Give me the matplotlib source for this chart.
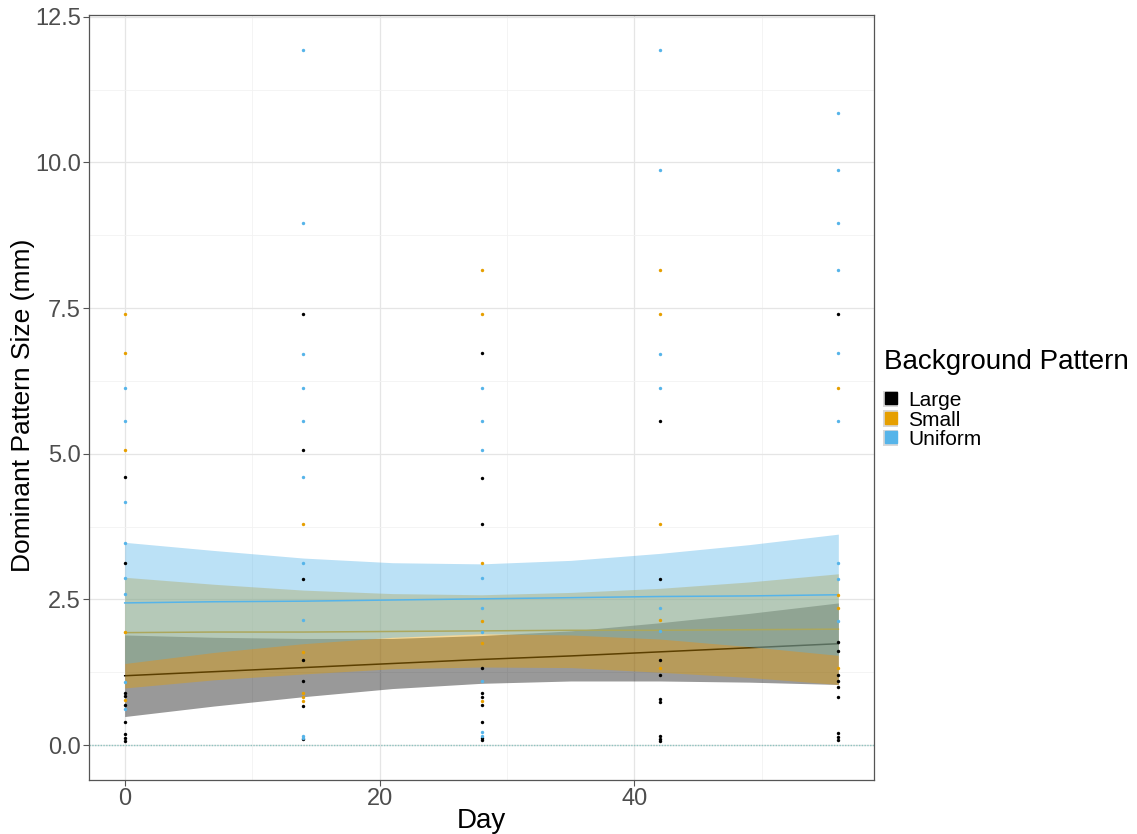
import matplotlib
matplotlib.use("Agg")
import matplotlib.pyplot as plt
from matplotlib.patches import Patch
from matplotlib.lines import Line2D
from matplotlib.ticker import MultipleLocator

plt.rcParams['font.family'] = ['Liberation Sans', 'DejaVu Sans']

# observed pattern sizes (mm) per sampling day
large_pts = {
    0: [4.60, 3.13, 0.90, 0.85, 0.69, 0.39, 0.19, 0.13, 0.07],
    14: [7.40, 5.06, 2.85, 1.46, 1.10, 0.67, 0.10],
    28: [6.73, 4.59, 3.80, 1.32, 0.90, 0.82, 0.68, 0.39, 0.12, 0.08],
    42: [5.56, 2.85, 1.46, 1.21, 0.79, 0.74, 0.16, 0.11, 0.07],
    56: [7.40, 1.77, 1.61, 1.21, 1.10, 0.99, 0.82, 0.20, 0.14, 0.09],
}
small_pts = {
    0: [7.40, 6.73, 5.06, 1.94, 0.78],
    14: [3.80, 1.60, 0.90, 0.82, 0.75],
    28: [8.15, 7.40, 3.13, 2.13, 1.76, 0.75],
    42: [8.15, 7.40, 3.80, 2.14, 1.32],
    56: [6.12, 2.58, 2.36, 1.33],
}
uniform_pts = {
    0: [6.12, 5.56, 4.18, 3.46, 2.86, 2.60, 1.09, 0.62],
    14: [11.93, 8.96, 6.72, 6.12, 5.56, 4.60, 3.13, 2.14, 0.16, 0.12],
    28: [6.12, 5.56, 5.06, 2.86, 2.36, 1.94, 1.10, 0.22, 0.16],
    42: [11.93, 9.87, 6.72, 6.12, 2.36, 1.95],
    56: [10.85, 9.87, 8.96, 8.15, 6.73, 5.56, 3.13, 2.85, 2.13],
}

# fitted trend with confidence band
fit_days = [0, 7, 14, 21, 28, 35, 42, 49, 56]
large_fit = [1.19, 1.26, 1.33, 1.40, 1.47, 1.53, 1.60, 1.67, 1.74]
large_lo = [0.49, 0.67, 0.83, 0.97, 1.06, 1.10, 1.10, 1.08, 1.04]
large_hi = [1.89, 1.85, 1.83, 1.83, 1.88, 1.96, 2.10, 2.26, 2.44]
small_fit = [1.93, 1.94, 1.94, 1.95, 1.96, 1.97, 1.97, 1.98, 1.99]
small_lo = [0.98, 1.12, 1.22, 1.31, 1.34, 1.33, 1.25, 1.16, 1.04]
small_hi = [2.88, 2.76, 2.66, 2.60, 2.58, 2.62, 2.69, 2.80, 2.94]
uniform_fit = [2.44, 2.46, 2.47, 2.49, 2.51, 2.53, 2.55, 2.56, 2.58]
uniform_lo = [1.40, 1.59, 1.74, 1.85, 1.91, 1.89, 1.82, 1.69, 1.54]
uniform_hi = [3.48, 3.34, 3.21, 3.13, 3.11, 3.17, 3.29, 3.44, 3.62]

groups = ["Large", "Small", "Uniform"]
colors = ["#000000", "#E69F00", "#56B4E9"]
points = [large_pts, small_pts, uniform_pts]
fits = [(large_fit, large_lo, large_hi),
        (small_fit, small_lo, small_hi),
        (uniform_fit, uniform_lo, uniform_hi)]

fig = plt.figure(figsize=(11.37, 8.34), dpi=100)
ax = fig.add_axes([0.0783, 0.0647, 0.6904, 0.9173])

# ribbons and lines, one group at a time
for i, (fit, lo, hi) in enumerate(fits):
    ax.fill_between(fit_days, lo, hi, color=colors[i], alpha=0.4,
                    linewidth=0, zorder=3 + 2 * i)
    ax.plot(fit_days, fit, color=colors[i], lw=1.1, zorder=4 + 2 * i)

for i, pts in enumerate(points):
    xs, ys = [], []
    for d, vals in pts.items():
        xs += [d] * len(vals)
        ys += vals
    ax.scatter(xs, ys, s=6, color=colors[i], linewidths=0, zorder=10)

ax.axhline(0, color="#8fc4c0", lw=1.0, ls=(0, (1, 1)), zorder=2)

ax.set_xlim(-2.8, 58.8)
ax.set_ylim(-0.6, 12.53)
ax.xaxis.set_major_locator(MultipleLocator(20))
ax.xaxis.set_minor_locator(MultipleLocator(10))
ax.yaxis.set_major_locator(MultipleLocator(2.5))
ax.yaxis.set_minor_locator(MultipleLocator(1.25))
ax.yaxis.set_major_formatter(matplotlib.ticker.FormatStrFormatter("%.1f"))
ax.grid(which="major", color="#e5e5e5", lw=0.9)
ax.grid(which="minor", color="#f2f2f2", lw=0.6)
ax.set_axisbelow(True)
for sp in ax.spines.values():
    sp.set_color("#555555")
    sp.set_linewidth(0.9)
ax.tick_params(which="major", length=4, color="#555555", labelsize=17,
               labelcolor="#4d4d4d", pad=2)
ax.tick_params(which="minor", length=0)

ax.set_xlabel("Day", fontsize=20, labelpad=-2)
ax.set_ylabel("Dominant Pattern Size (mm)", fontsize=19)
ax.yaxis.set_label_coords(-0.069, 0.49)

# legend title drawn separately so the key rows sit a bit lower
fig.text(0.7775, 1 - 362 / 834, "Background Pattern", fontsize=20,
         va="center", ha="left")
handles = [(Patch(facecolor="#d9d9d9", edgecolor="none"),
            Line2D([], [], marker="s", ls="", color=c, markersize=8))
           for c in colors]
fig.legend(handles, groups, loc="upper left",
           bbox_to_anchor=(0.764, 1 - 376 / 834), frameon=False, fontsize=15,
           labelspacing=0.0, handlelength=0.7, handleheight=0.85,
           handletextpad=0.5, borderpad=0.2)

fig.savefig("out.png", dpi=100)
